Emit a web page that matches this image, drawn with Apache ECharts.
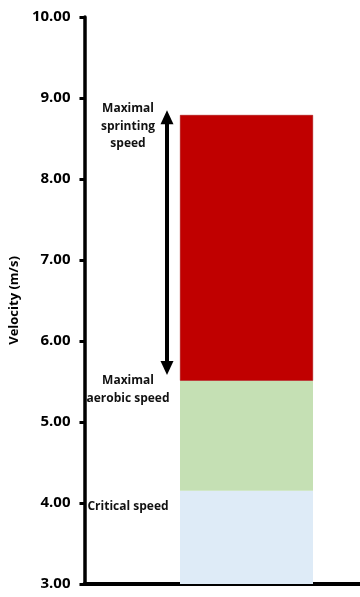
<!DOCTYPE html>
<html><head><meta charset="utf-8">
<script src="https://cdn.jsdelivr.net/npm/echarts@6/dist/echarts.min.js"></script>
<style>html,body{margin:0;padding:0;background:#fff}#c{width:360px;height:597px}</style>
</head><body><div id="c"></div>
<script>
// ---- data ----
var categories = ['Velocity'];
var criticalSpeed = [4.15];
var maximalAerobicSpeed = [5.51];
var maximalSprintingSpeed = [8.79];
var yTicks = [3, 4, 5, 6, 7, 8, 9, 10];
var arrowRange = [5.58, 8.85];
var annotationLabels = ['Maximal\nsprinting\nspeed', 'Maximal\naerobic speed', 'Critical speed'];
var annotationValues = [8.65, 5.40, 3.95];

var yMin = yTicks[0], yMax = yTicks[yTicks.length - 1];
var seg1 = criticalSpeed.map(function (v) { return v; });
var seg2 = maximalAerobicSpeed.map(function (v, i) { return +(v - criticalSpeed[i]).toFixed(3); });
var seg3 = maximalSprintingSpeed.map(function (v, i) { return +(v - maximalAerobicSpeed[i]).toFixed(3); });

var FONT = 'Open Sans';
var chart = echarts.init(document.getElementById('c'), null, { renderer: 'canvas' });
var option = {
  animation: false,
  backgroundColor: '#fff',
  grid: [
    { left: 80, right: 0, top: 17, bottom: 13, containLabel: false },
    { left: 180, right: 47, top: 17, bottom: 13, containLabel: false }
  ],
  xAxis: [
    { type: 'category', gridIndex: 0, data: categories, axisLine: { lineStyle: { color: '#000', width: 4 } },
      axisTick: { show: false }, axisLabel: { show: false }, splitLine: { show: false } },
    { type: 'category', gridIndex: 1, data: categories, show: false }
  ],
  yAxis: [
    { type: 'value', gridIndex: 0, min: yMin, max: yMax, interval: 1,
      name: 'Velocity (m/s)', nameLocation: 'middle', nameGap: 61, nameRotate: 90,
      nameTextStyle: { fontFamily: FONT, fontWeight: 'bold', fontSize: 13, color: '#000' },
      axisLine: { show: true, lineStyle: { color: '#000', width: 3.5 } },
      axisTick: { show: true, length: 5, lineStyle: { color: '#000', width: 3 } },
      axisLabel: { fontFamily: FONT, fontWeight: 'bold', fontSize: 15, color: '#000', margin: 14,
        formatter: function (v) { return v.toFixed(2); } },
      splitLine: { show: false } },
    { type: 'value', gridIndex: 1, min: yMin, max: yMax, interval: 1, show: false }
  ],
  series: [
    { type: 'bar', name: 'Critical speed', xAxisIndex: 1, yAxisIndex: 1, stack: 's', barWidth: '100%',
      data: seg1, itemStyle: { color: '#DEEBF7' }, clip: true },
    { type: 'bar', name: 'Maximal aerobic speed', xAxisIndex: 1, yAxisIndex: 1, stack: 's', barWidth: '100%',
      data: seg2, itemStyle: { color: '#C5E0B4' } },
    { type: 'bar', name: 'Maximal sprinting speed', xAxisIndex: 1, yAxisIndex: 1, stack: 's', barWidth: '100%',
      data: seg3, itemStyle: { color: '#C00000', borderColor: '#A00000', borderWidth: 0.5 } }
  ]
};
chart.setOption(option);

function py(v) { return chart.convertToPixel({ yAxisIndex: 0 }, v); }
var arrowX = 167, labelX = 128;
var yTop = py(arrowRange[1]), yBot = py(arrowRange[0]);
var head = 14, hw = 6.5;
var graphics = [
  { type: 'line', shape: { x1: arrowX, y1: yTop + head - 1, x2: arrowX, y2: yBot - head + 1 },
    style: { stroke: '#000', lineWidth: 4 } },
  { type: 'polygon', shape: { points: [[arrowX, yTop], [arrowX - hw, yTop + head], [arrowX + hw, yTop + head]] },
    style: { fill: '#000' } },
  { type: 'polygon', shape: { points: [[arrowX, yBot], [arrowX - hw, yBot - head], [arrowX + hw, yBot - head]] },
    style: { fill: '#000' } }
];
annotationLabels.forEach(function (t, i) {
  graphics.push({ type: 'text', x: labelX, y: py(annotationValues[i]),
    style: { text: t, fontFamily: FONT, fontWeight: 'bold', fontSize: 12, lineHeight: 17.5,
      fill: '#111', align: 'center', verticalAlign: 'middle' } });
});
chart.setOption({ graphic: graphics });
</script>
</body></html>
